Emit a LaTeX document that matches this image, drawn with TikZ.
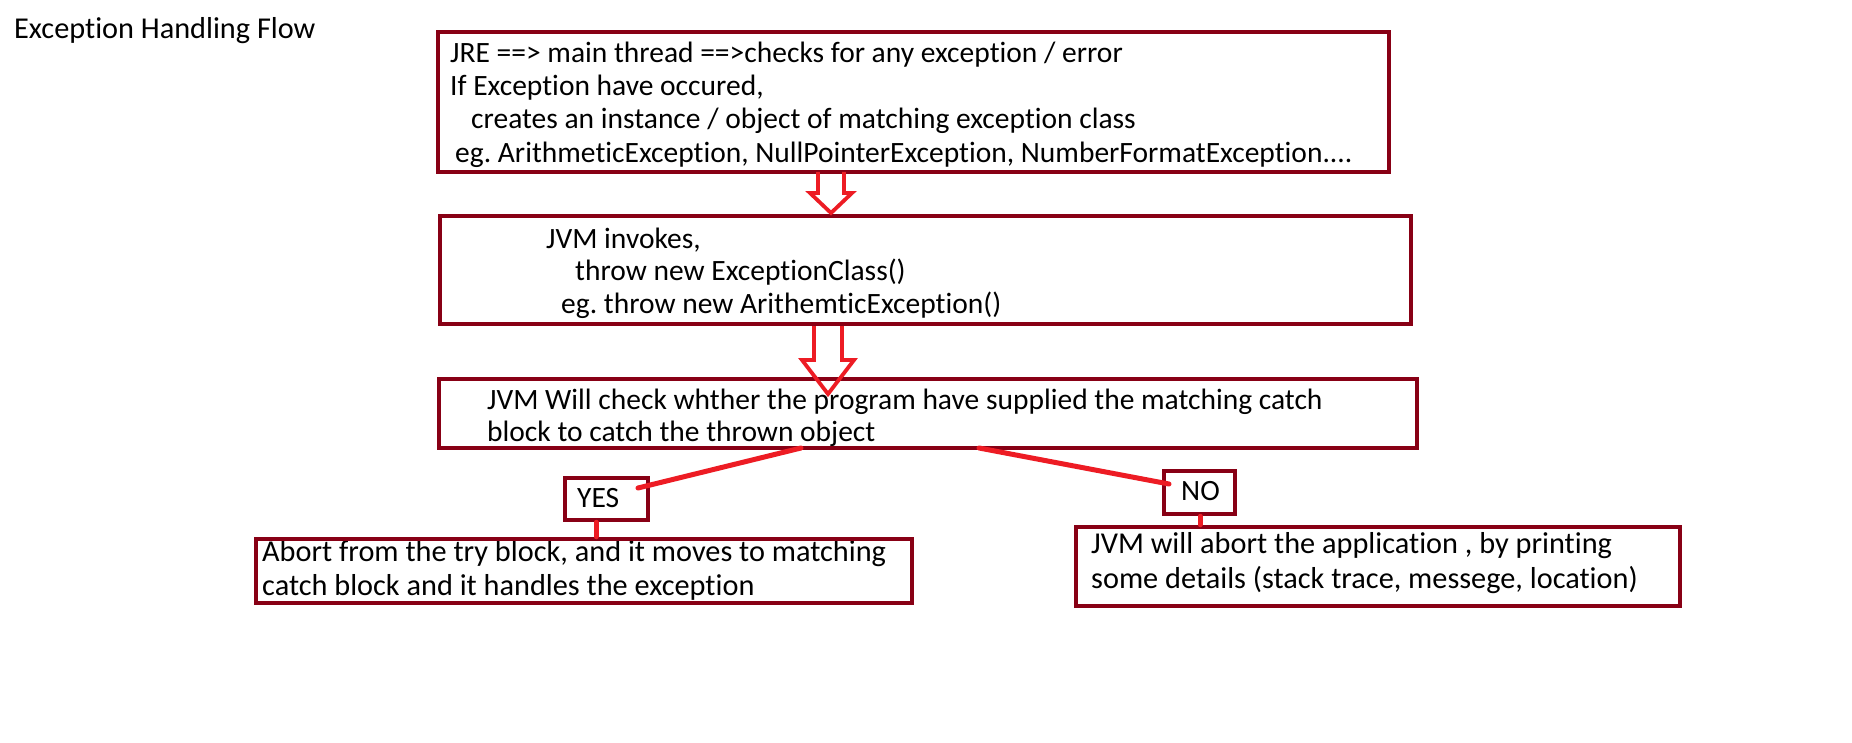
\documentclass[tikz,border=0pt]{standalone}
\usepackage{fontspec}
\setmainfont{Carlito}[Ligatures={NoCommon}]
\definecolor{boxred}{RGB}{136,0,21}
\definecolor{linered}{RGB}{237,28,36}
\frenchspacing
\begin{document}
\begin{tikzpicture}[x=1pt,y=-1pt,
  box/.style={draw=boxred, line width=4.5pt, rectangle, inner sep=0pt, fill=none},
  txt/.style={anchor=base west, inner sep=0pt, font=\fontsize{29.5}{34}\selectfont\frenchspacing},
  big/.style={font=\fontsize{30.3}{35}\selectfont\frenchspacing},
  conn/.style={draw=linered, line width=5pt, line cap=round},
  hollow/.style={draw=linered, line width=3.8pt, line join=miter}]
\useasboundingbox (0,0) rectangle (1852,743);
\fill[white] (0,0) rectangle (1852,743);
% title
\node[txt, big] (title) at (14,39) {Exception Handling Flow};
% box 1 text
\node[txt] (t1a) at (450,63) {JRE ==> main thread ==>checks for any exception / error};
\node[txt] (t1b) at (450,96) {If Exception have occured,};
\node[txt] (t1c) at (471,129) {creates an instance / object of matching exception class};
\node[txt] (t1d) at (455,163) {eg. ArithmeticException, NullPointerException, NumberFormatException....};
% box 2 text
\node[txt] (t2a) at (546,249) {JVM invokes,};
\node[txt] (t2b) at (575,281) {throw new ExceptionClass()};
\node[txt] (t2c) at (561,313) {eg. throw new ArithemticException()};
% box 3 text
\node[txt] (t3a) at (487,409) {JVM Will check whther the program have supplied the matching catch};
\node[txt] (t3b) at (487,441) {block to catch the thrown object};
% yes/no
\node[txt] (ty) at (577,507) {YES};
\node[txt] (tn) at (1181,500) {NO};
% result texts
\node[txt, big] (ta) at (262,561) {Abort from the try block, and it moves to matching};
\node[txt, big] (tb) at (262,595) {catch block and it handles the exception};
\node[txt, big] (tc) at (1091,553) {JVM will abort the application , by printing};
\node[txt, big] (td) at (1091,588) {some details (stack trace, messege, location)};
% boxes
\node[box, minimum width=951pt, minimum height=140pt] (b1) at (913.5,102) {};
\node[box, minimum width=971pt, minimum height=108pt] (b2) at (925.5,270) {};
\node[box, minimum width=978pt, minimum height=69pt] (b3) at (928,413.5) {};
\node[box, minimum width=83pt, minimum height=42pt] (yes) at (606.5,499) {};
\node[box, minimum width=71pt, minimum height=43pt] (no) at (1199.5,492.5) {};
\node[box, minimum width=656pt, minimum height=64pt] (ab) at (584,571) {};
\node[box, minimum width=604pt, minimum height=79pt] (jv) at (1378,566.5) {};
% hollow arrows
\coordinate (a1) at (831,172);
\coordinate (a2) at (828,326);
\draw[hollow] ([xshift=-13pt]a1) -- ++(0,21) -- ++(-8,0) -- ++(21,20) -- ++(21,-20) -- ++(-8,0) -- ++(0,-21);
\draw[hollow] ([xshift=-14pt]a2) -- ++(0,34) -- ++(-12,0) -- ++(26,34) -- ++(26,-34) -- ++(-12,0) -- ++(0,-34);
% connectors
\coordinate (c1) at (801,448);
\coordinate (c2) at (638,488);
\coordinate (c3) at (979,448);
\coordinate (c4) at (1169,484);
\draw[conn] (c1) -- (c2);
\draw[conn] (c3) -- (c4);
\draw[conn] (yes.south -| 596,0) -- (ab.north -| 596,0);
\draw[conn] (no.south -| 1200,0) -- (jv.north -| 1200,0);
\end{tikzpicture}
\end{document}
